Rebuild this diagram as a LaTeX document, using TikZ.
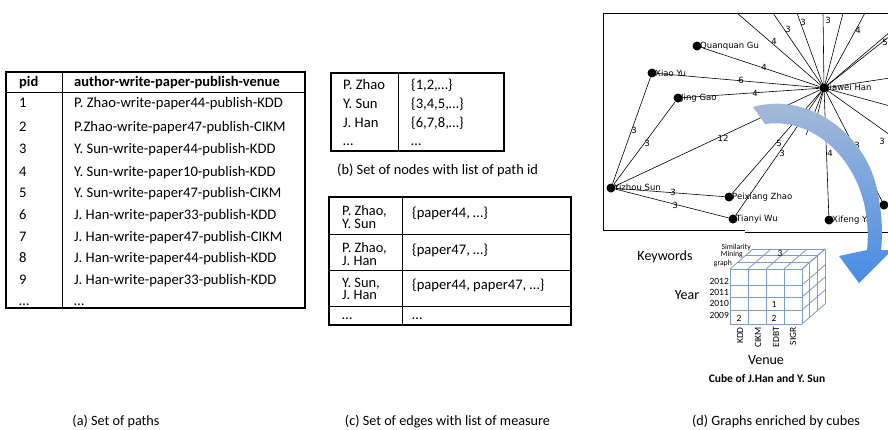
\documentclass[tikz,border=0pt]{standalone}
\usepackage{fontspec}
\setmainfont{Carlito}
\newfontfamily\graphfont{DejaVu Sans}
\definecolor{cubeblue}{RGB}{125,155,205}
\definecolor{arrtop}{RGB}{170,188,215}
\definecolor{arrbot}{RGB}{70,140,228}
\begin{document}
\begin{tikzpicture}[x=1pt,y=-1pt,
  tbl/.style={line width=1.4pt},
  tline/.style={line width=1pt},
  tx/.style={anchor=base west,inner sep=0pt,font=\fontsize{14.6}{16}\selectfont},
  two/.style={anchor=north west,inner sep=0pt,align=left,font=\fontsize{14.4}{12.6}\selectfont},
  tb/.style={anchor=base west,inner sep=0pt,font=\fontsize{14.5}{16}\selectfont\bfseries},
  captext/.style={anchor=base,inner sep=0pt,font=\fontsize{14.2}{16}\selectfont},
  gedge/.style={line width=0.6pt},
  gnode/.style={circle,fill=black,minimum size=9pt,inner sep=0pt},
  glab/.style={anchor=west,inner sep=0pt,font=\graphfont\fontsize{8.5}{10}\selectfont},
  elab/.style={inner sep=0pt,font=\graphfont\fontsize{8.5}{10}\selectfont},
  cubeline/.style={draw=cubeblue,line width=0.8pt},
  small/.style={inner sep=0pt,font=\fontsize{9.5}{11}\selectfont},
  tiny/.style={anchor=east,inner sep=0pt,font=\fontsize{7.7}{9}\selectfont},
  axl/.style={inner sep=0pt,font=\fontsize{14}{16}\selectfont}
]
\useasboundingbox (0,0) rectangle (888,429);
\fill[white] (0,0) rectangle (888,429);

% ---------- (a) table ----------
\draw[tbl] (6,72) rectangle (305,308);
\draw[tline] (6,92) -- (305,92);
\draw[tline] (62,72) -- (62,308);
\node[tb] (ha) at (19,86.5) {pid};
\node[tb] (hb) at (74,86.5) {author-write-paper-publish-venue};
\foreach \i/\y/\t in {1/103/{P. Zhao-write-paper44-publish-KDD},
                      2/127/{P.Zhao-write-paper47-publish-CIKM},
                      3/149/{Y. Sun-write-paper44-publish-KDD},
                      4/172/{Y. Sun-write-paper10-publish-KDD},
                      5/193/{Y. Sun-write-paper47-publish-CIKM},
                      6/215/{J. Han-write-paper33-publish-KDD},
                      7/237/{J. Han-write-paper47-publish-CIKM},
                      8/258/{J. Han-write-paper44-publish-KDD},
                      9/280/{J. Han-write-paper33-publish-KDD}}
{
  \node[tx] (pid\i) at (19,\y+4.5) {\i};
  \node[tx] (path\i) at (74,\y+4.5) {\t};
}
\node[tx] (pid10) at (19,305) {…};
\node[tx] (path10) at (74,305) {…};
\node[captext] (capa) at (116,425) {(a) Set of paths};

% ---------- (b) table ----------
\draw[tbl] (331,73) rectangle (504,151);
\draw[tline] (398,73) -- (398,151);
\node[tx] (b1) at (343,89.5) {P. Zhao};
\node[tx] (b2) at (343,108.5) {Y. Sun};
\node[tx] (b3) at (343,127.5) {J. Han};
\node[tx] (b4) at (343,145) {…};
\node[tx] (c1) at (411,89.5) {\{1,2,…\}};
\node[tx] (c2) at (411,108.5) {\{3,4,5,…\}};
\node[tx] (c3) at (411,127.5) {\{6,7,8,…\}};
\node[tx] (c4) at (411,145) {…};
\node[anchor=base west,inner sep=0pt,font=\fontsize{14.4}{16}\selectfont] (capb) at (337,174.5) {(b) Set of nodes with list of path id};

% ---------- (c) table ----------
\draw[tbl] (329,197) rectangle (571,325);
\draw[tline] (402,197) -- (402,325);
\foreach \y in {234,270,306} \draw[tline] (329,\y) -- (571,\y);
\node[two] (e1) at (342,205.5) {P. Zhao,\\Y. Sun};
\node[two] (e3) at (342,242.5) {P. Zhao,\\J. Han};
\node[two] (e5) at (342,277.5) {Y. Sun,\\J. Han};
\node[tx] (e7) at (342,319) {…};
\node[tx] (f1) at (412,217.5) {\{paper44, …\}};
\node[tx] (f2) at (412,254.5) {\{paper47, …\}};
\node[tx] (f3) at (412,289.5) {\{paper44, paper47, …\}};
\node[tx] (f4) at (412,319) {…};
\node[captext] (capc) at (447.5,425) {(c) Set of edges with list of measure};

% ---------- (d) graph ----------
\begin{scope}
\clip (0,0) rectangle (888,429);
\draw[line width=0.8pt] (888,13) -- (603,13) -- (603,230) -- (745,230);
\draw[line width=1pt] (745,232) -- (888,232);

\node[gnode] (jh) at (824,88) {};
\node[gnode] (qg) at (697,46) {};
\node[gnode] (xy) at (652,73) {};
\node[gnode] (jg) at (678,98) {};
\node[gnode] (ys) at (611,188) {};
\node[gnode] (pz) at (729,197) {};
\node[gnode] (tw) at (733,219) {};
\node[gnode] (xf) at (829,220) {};
\node[gnode] (rn) at (884,205) {};

\coordinate (t1) at (737,13);
\coordinate (t2) at (773,13);
\coordinate (t3) at (797,13);
\coordinate (t4) at (823,13);
\coordinate (t5) at (843,13);
\coordinate (t6) at (865,13);
\coordinate (r1) at (890,32);
\coordinate (r2) at (890,36);
\coordinate (r3) at (890,78);
\coordinate (r4) at (890,106);
\coordinate (r5) at (890,135);
\coordinate (h1) at (806,135);
\coordinate (h2) at (813,133);

\foreach \c in {t1,t2,t3,t4,t5,t6,r1,r2,r3,r4,r5,h1,h2}
  \draw[gedge] (jh.center) -- (\c);
\foreach \n in {qg,xy,jg,ys,pz,tw,xf,rn}
  \draw[gedge] (jh) -- (\n);
\foreach \n in {xy,jg,pz,tw}
  \draw[gedge] (ys) -- (\n);

\node[glab] (ljh) at (827,88) {Jiawei Han};
\node[glab] (lqg) at (700,46) {Quanquan Gu};
\node[glab] (lxy) at (655,73) {Xiao Yu};
\node[glab] (ljg) at (681,98) {Jing Gao};
\node[glab] (lys) at (614,187) {Yizhou Sun};
\node[glab] (lpz) at (732,197) {Peixiang Zhao};
\node[glab] (ltw) at (736,219) {Tianyi Wu};
\node[glab] (lxf) at (832,220) {Xifeng Yan};

\node[elab] (w1) at (774,41) {4};
\node[elab] (w2) at (788,29) {3};
\node[elab] (w3) at (803,22) {3};
\node[elab] (w4) at (828,20) {3};
\node[elab] (w5) at (858,30) {4};
\node[elab] (w6) at (885,42) {5};
\node[elab] (w7) at (764,67) {4};
\node[elab] (w8) at (741,80) {6};
\node[elab] (w9) at (755,93) {4};
\node[elab] (w10) at (723,138) {12};
\node[elab] (w11) at (779,143) {5};
\node[elab] (w12) at (782,153) {3};
\node[elab] (w13) at (830,153) {4};
\node[elab] (w14) at (857,145) {3};
\node[elab] (w15) at (882,141) {3};
\node[elab] (w16) at (634,130) {3};
\node[elab] (w17) at (647,143) {3};
\node[elab] (w18) at (673,192) {3};
\node[elab] (w19) at (675,205) {3};

% curved arrow
\shade[top color=arrtop,bottom color=arrbot]
  (753,107) .. controls (805,92) and (862,130) .. (876,185)
  .. controls (882,210) and (883,232) .. (881,250)
  -- (892,250) -- (859,283) -- (839,256) -- (867,250)
  .. controls (869,232) and (867,212) .. (862,196)
  .. controls (848,150) and (808,118) .. (765,124) -- cycle;
\end{scope}

% ---------- cube ----------
\foreach \k in {1,2,3}
  \draw[cubeline] ({730+\k*23/3},{269-\k*20/3}) -- ({802+\k*23/3},{269-\k*20/3});
\foreach \x in {730,748,766,784,802}
  \draw[cubeline] (\x,269) -- ++(23,-20);
\foreach \y in {269,285,297,310,324}
  \draw[cubeline] (802,\y) -- ++(23,-20);
\foreach \k in {1,2,3}
  \draw[cubeline] ({802+\k*23/3},{269-\k*20/3}) -- ({802+\k*23/3},{324-\k*20/3});
\foreach \x in {730,748,766,784,802}
  \draw[cubeline] (\x,269) -- (\x,324);
\foreach \y in {269,285,297,310,324}
  \draw[cubeline] (730,\y) -- (802,\y);

\node[tiny] (k1) at (751,247) {Similarity};
\node[tiny] (k2) at (743,255) {Mining};
\node[tiny] (k3) at (732,263) {graph};
\node[small] (v3) at (780,253) {3};

\node[small,anchor=east] (y1) at (729,281) {2012};
\node[small,anchor=east] (y2) at (729,292) {2011};
\node[small,anchor=east] (y3) at (729,303) {2010};
\node[small,anchor=east] (y4) at (729,315) {2009};
\node[small] (n1) at (739,318) {2};
\node[small] (n2) at (774,318) {2};
\node[small] (n3) at (774,304) {1};

\node[small,rotate=90,anchor=east] (u1) at (740,327) {KDD};
\node[small,rotate=90,anchor=east] (u2) at (758,327) {CIKM};
\node[small,rotate=90,anchor=east] (u3) at (776,327) {EDBT};
\node[small,rotate=90,anchor=east] (u4) at (793,327) {SIGR};

\node[axl] (kw) at (665,257) {Keywords};
\node[axl] (yr) at (687,295) {Year};
\node[axl] (vn) at (766,360) {Venue};
\node[inner sep=0pt,font=\fontsize{11.5}{13}\selectfont\bfseries] (cb) at (767,378) {Cube of J.Han and Y. Sun};

\node[captext] (capd) at (776,425) {(d) Graphs enriched by cubes};
\end{tikzpicture}
\end{document}
